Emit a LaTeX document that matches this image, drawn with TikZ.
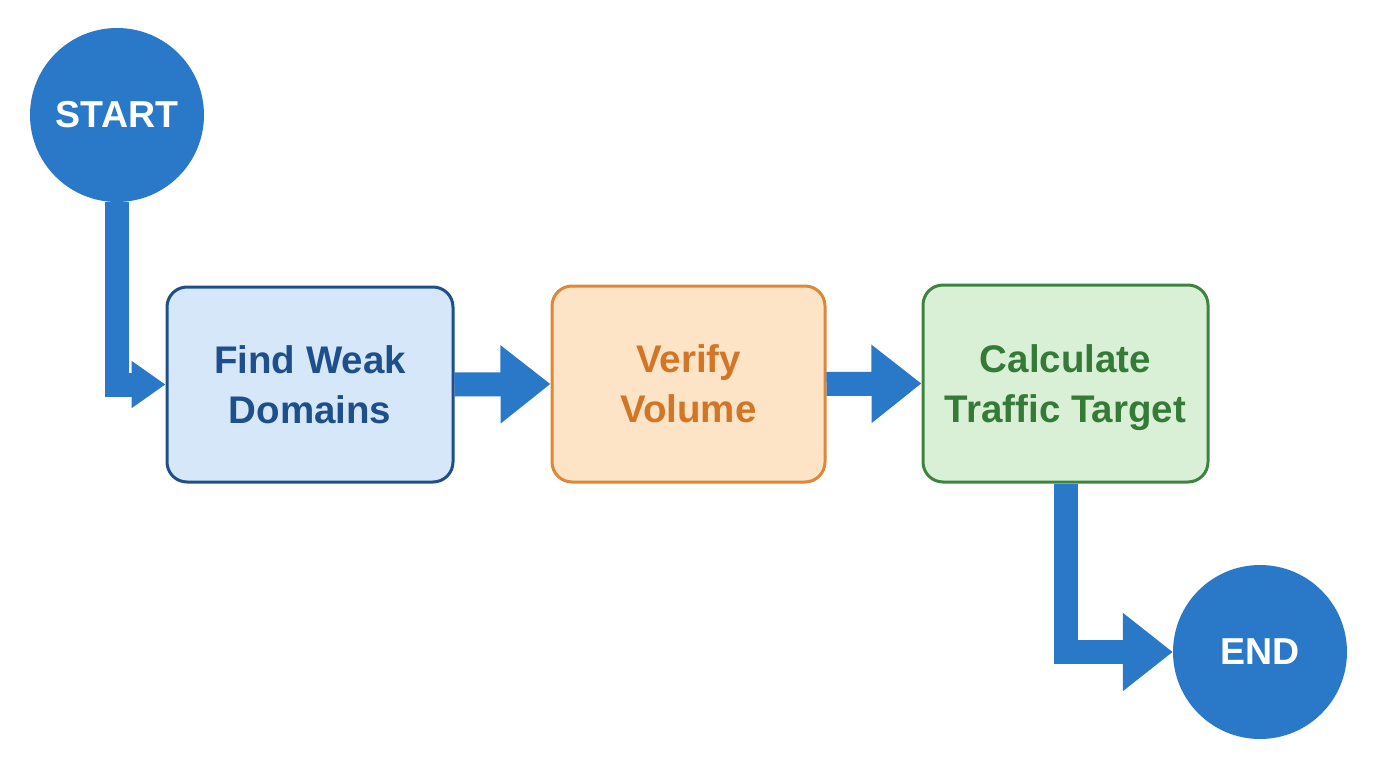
\documentclass[tikz,border=0pt]{standalone}
\usepackage{fontspec}
\setmainfont{Liberation Sans}
\usetikzlibrary{arrows.meta}
\definecolor{flowblue}{HTML}{2A78C8}
\definecolor{bluefill}{HTML}{D6E7F9}
\definecolor{blueline}{HTML}{1F4F8A}
\definecolor{orangefill}{HTML}{FDE4C6}
\definecolor{orangeline}{HTML}{DE8736}
\definecolor{orangetext}{HTML}{D27526}
\definecolor{greenfill}{HTML}{D9F0D6}
\definecolor{greenline}{HTML}{3C8440}
\definecolor{greentext}{HTML}{367A38}
\tikzset{
  terminal/.style={circle, fill=flowblue, minimum size=174pt, inner sep=0pt,
    text=white, font=\fontsize{37.5}{44}\selectfont\bfseries},
  stepbox/.style={rectangle, rounded corners=20pt, line width=3pt, inner sep=0pt,
    align=center, font=\fontsize{38.5}{50}\selectfont\bfseries},
  flow/.style={draw=flowblue, line width=24pt, line join=miter},
  bighead/.style={-{Triangle[width=75pt,length=50pt]}},
  smallhead/.style={-{Triangle[width=45pt,length=34pt]}},
}
\begin{document}
\begin{tikzpicture}[x=1pt,y=-1pt]
\useasboundingbox (0,0) rectangle (1376,768);
\node[terminal] (start) at (117,115) {START};
\node[terminal] (end) at (1260,652) {END};
\node[stepbox, draw=blueline, fill=bluefill, text=blueline,
  minimum width=286pt, minimum height=195pt] (find) at (310,384.5) {Find Weak\\Domains};
\node[stepbox, draw=orangeline, fill=orangefill, text=orangetext,
  minimum width=273pt, minimum height=196pt] (verify) at (688.5,384) {Verify\\Volume};
\node[stepbox, draw=greenline, fill=greenfill, text=greentext,
  minimum width=285pt, minimum height=197pt] (calc) at (1065.5,383.5)
  {Calculate\\\raisebox{0pt}[\height][0pt]{Traffic Target}};
\draw[flow, smallhead] (start.south) |- (find.west);
\draw[flow, bighead] (find.east) -- (verify.west);
\draw[flow, bighead] (verify.east) -- (calc.west);
\draw[flow, bighead] (calc.south) |- (end.west);
\end{tikzpicture}
\end{document}
